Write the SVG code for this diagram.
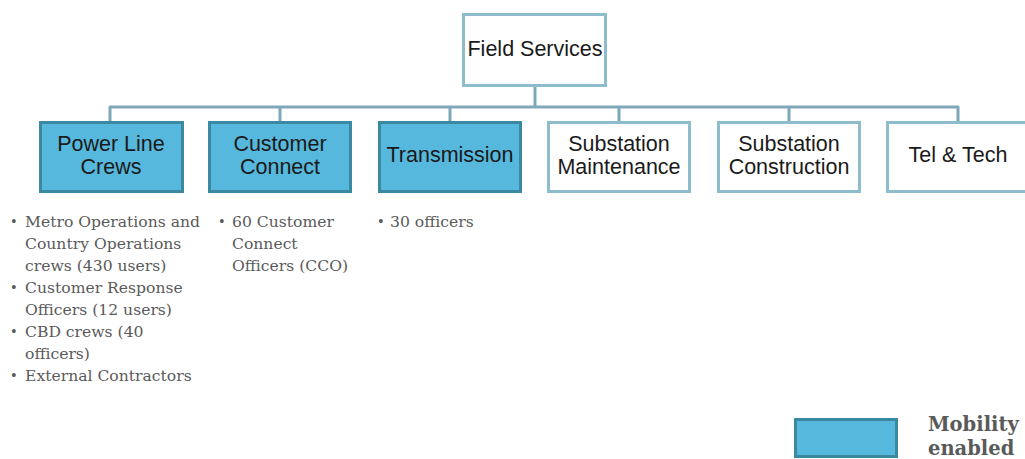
<svg xmlns="http://www.w3.org/2000/svg" width="1025" height="459" viewBox="0 0 1025 459">
  <style>
    .box { fill: #ffffff; stroke: #8dbccd; stroke-width: 3; }
    .mob { fill: #56b8dc; stroke: #3b88a1; stroke-width: 3; }
    .lbl { font-family: "Liberation Sans", Arial, sans-serif; font-size: 21.5px; fill: #1a1a1a; text-anchor: middle; }
    .note { font-family: "DejaVu Serif", "Liberation Serif", serif; font-size: 15.6px; fill: #5a5a5a; }
    .dot { font-family: "Liberation Serif", serif; font-size: 16px; fill: #5a5a5a; }
    .leg { font-family: "DejaVu Serif", "Liberation Serif", serif; font-size: 19.5px; font-weight: bold; fill: #5a5a5a; }
    .wire { fill: none; stroke: #7ea8b8; stroke-width: 3; stroke-linejoin: round; }
  </style>
  <rect width="1025" height="459" fill="#ffffff"/>

  <g id="connectors">
    <path class="wire" d="M535 86 V107"/>
    <path class="wire" d="M110 122 V107 H958 V122"/>
    <path class="wire" d="M280 107 V122 M450 107 V122 M619 107 V122 M789 107 V122"/>
  </g>

  <g id="field-services">
    <rect class="box" x="463.5" y="14.5" width="142" height="71"/>
    <text class="lbl" x="535" y="56">Field Services</text>
  </g>

  <g id="power-line-crews">
    <rect class="mob" x="40.5" y="122.5" width="142" height="69"/>
    <text class="lbl" x="111" y="151">Power Line</text>
    <text class="lbl" x="111" y="174">Crews</text>
  </g>

  <g id="customer-connect">
    <rect class="mob" x="209.5" y="122.5" width="141" height="69"/>
    <text class="lbl" x="280" y="151">Customer</text>
    <text class="lbl" x="280" y="174">Connect</text>
  </g>

  <g id="transmission">
    <rect class="mob" x="379.5" y="122.5" width="141" height="69"/>
    <text class="lbl" x="450" y="162">Transmission</text>
  </g>

  <g id="substation-maintenance">
    <rect class="box" x="548.5" y="122.5" width="141" height="69"/>
    <text class="lbl" x="619" y="151">Substation</text>
    <text class="lbl" x="619" y="174">Maintenance</text>
  </g>

  <g id="substation-construction">
    <rect class="box" x="718.5" y="122.5" width="141" height="69"/>
    <text class="lbl" x="789" y="151">Substation</text>
    <text class="lbl" x="789" y="174">Construction</text>
  </g>

  <g id="tel-tech">
    <rect class="box" x="887.5" y="122.5" width="142" height="69"/>
    <text class="lbl" x="958" y="162">Tel &amp; Tech</text>
  </g>

  <g id="notes-power-line">
    <text class="dot" x="11" y="227">•</text>
    <text class="note" x="25" y="227">Metro Operations and</text>
    <text class="note" x="25" y="249">Country Operations</text>
    <text class="note" x="25" y="271">crews (430 users)</text>
    <text class="dot" x="11" y="293">•</text>
    <text class="note" x="25" y="293">Customer Response</text>
    <text class="note" x="25" y="315">Officers (12 users)</text>
    <text class="dot" x="11" y="337">•</text>
    <text class="note" x="25" y="337">CBD crews (40</text>
    <text class="note" x="25" y="359">officers)</text>
    <text class="dot" x="11" y="381">•</text>
    <text class="note" x="25" y="381">External Contractors</text>
  </g>

  <g id="notes-customer-connect">
    <text class="dot" x="219" y="227">•</text>
    <text class="note" x="232" y="227">60 Customer</text>
    <text class="note" x="232" y="249">Connect</text>
    <text class="note" x="232" y="271">Officers (CCO)</text>
  </g>

  <g id="notes-transmission">
    <text class="dot" x="378" y="227">•</text>
    <text class="note" x="390" y="227">30 officers</text>
  </g>

  <g id="legend">
    <rect class="mob" x="795.5" y="419.5" width="101" height="37"/>
    <text class="leg" x="928" y="431">Mobility</text>
    <text class="leg" x="928" y="455">enabled</text>
  </g>
</svg>
